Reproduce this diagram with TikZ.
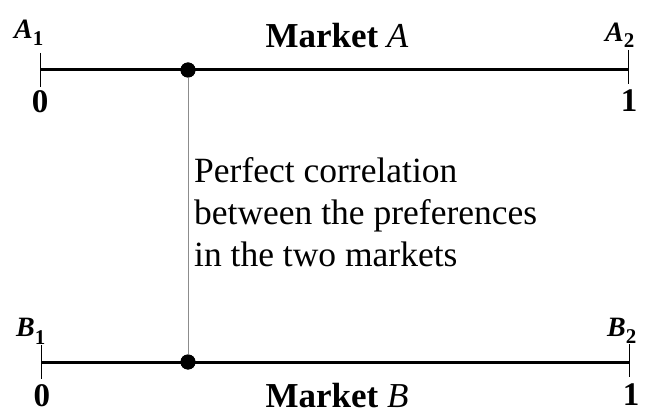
\documentclass[tikz,border=0pt]{standalone}
\usepackage{fontspec}
\setmainfont{Liberation Serif}
\begin{document}
\begin{tikzpicture}[x=1pt,y=-1pt,
  axisline/.style={line width=3pt},
  tickline/.style={line width=1pt},
  linkline/.style={line width=0.9pt, draw=black!45},
  dotnode/.style={circle, fill=black, inner sep=0pt, minimum size=15pt},
  endlabel/.style={inner sep=0pt, font=\fontsize{28}{32}\selectfont\bfseries\itshape},
  numlabel/.style={inner sep=0pt, font=\fontsize{33}{38}\selectfont\bfseries},
  marketlabel/.style={inner sep=0pt, anchor=base, font=\fontsize{35}{40}\selectfont\bfseries},
  bodytext/.style={inner sep=0pt, anchor=base west, font=\fontsize{35.5}{42}\selectfont}
]
\useasboundingbox (0,0) rectangle (659,414);
% Market A axis
\coordinate (a0) at (40,70);
\coordinate (a1) at (628,70);
\coordinate (a0t) at (40,53);
\coordinate (a0b) at (40,87);
\coordinate (a1t) at (628,50);
\coordinate (a1b) at (628,84);
\draw[axisline] (a0) -- (a1);
\draw[tickline] (a0t) -- (a0b);
\draw[tickline] (a1t) -- (a1b);
% Market B axis
\coordinate (b0) at (41,362);
\coordinate (b1) at (629,362);
\coordinate (b0t) at (41,345);
\coordinate (b0b) at (41,379);
\coordinate (b1t) at (629,344);
\coordinate (b1b) at (629,377);
\draw[axisline] (b0) -- (b1);
\draw[tickline] (b0t) -- (b0b);
\draw[tickline] (b1t) -- (b1b);
% dots and link
\node[dotnode] (da) at (188,70) {};
\node[dotnode] (db) at (188,362) {};
\draw[linkline] (da) -- (db);
\node[dotnode] at (188,70) {};
\node[dotnode] at (188,362) {};
% labels
\node[endlabel, anchor=base west] (A1) at (14,39) {A\raisebox{-7pt}{\fontsize{21}{24}\selectfont\upshape 1}};
\node[endlabel, anchor=base west] (A2) at (605,42) {A\raisebox{-6pt}{\fontsize{21}{24}\selectfont\upshape 2}};
\node[endlabel, anchor=base west] (B1) at (16,337) {B\raisebox{-7pt}{\fontsize{21}{24}\selectfont\upshape 1}};
\node[endlabel, anchor=base west] (B2) at (607,337) {B\raisebox{-6pt}{\fontsize{21}{24}\selectfont\upshape 2}};
\node[numlabel, anchor=base] (A0n) at (40,113) {0};
\node[numlabel, anchor=base] (A1n) at (629,112) {1};
\node[numlabel, anchor=base] (B0n) at (42,406) {0};
\node[numlabel, anchor=base] (B1n) at (631,405) {1};
\node[marketlabel] (MA) at (337,48) {Market \textit{\mdseries A}};
\node[marketlabel] (MB) at (337,407) {Market \textit{\mdseries B}};
\node[bodytext] (t1) at (194,183) {Perfect correlation};
\node[bodytext] (t2) at (194,225) {between the preferences};
\node[bodytext] (t3) at (194,267) {in the two markets};
\end{tikzpicture}
\end{document}
